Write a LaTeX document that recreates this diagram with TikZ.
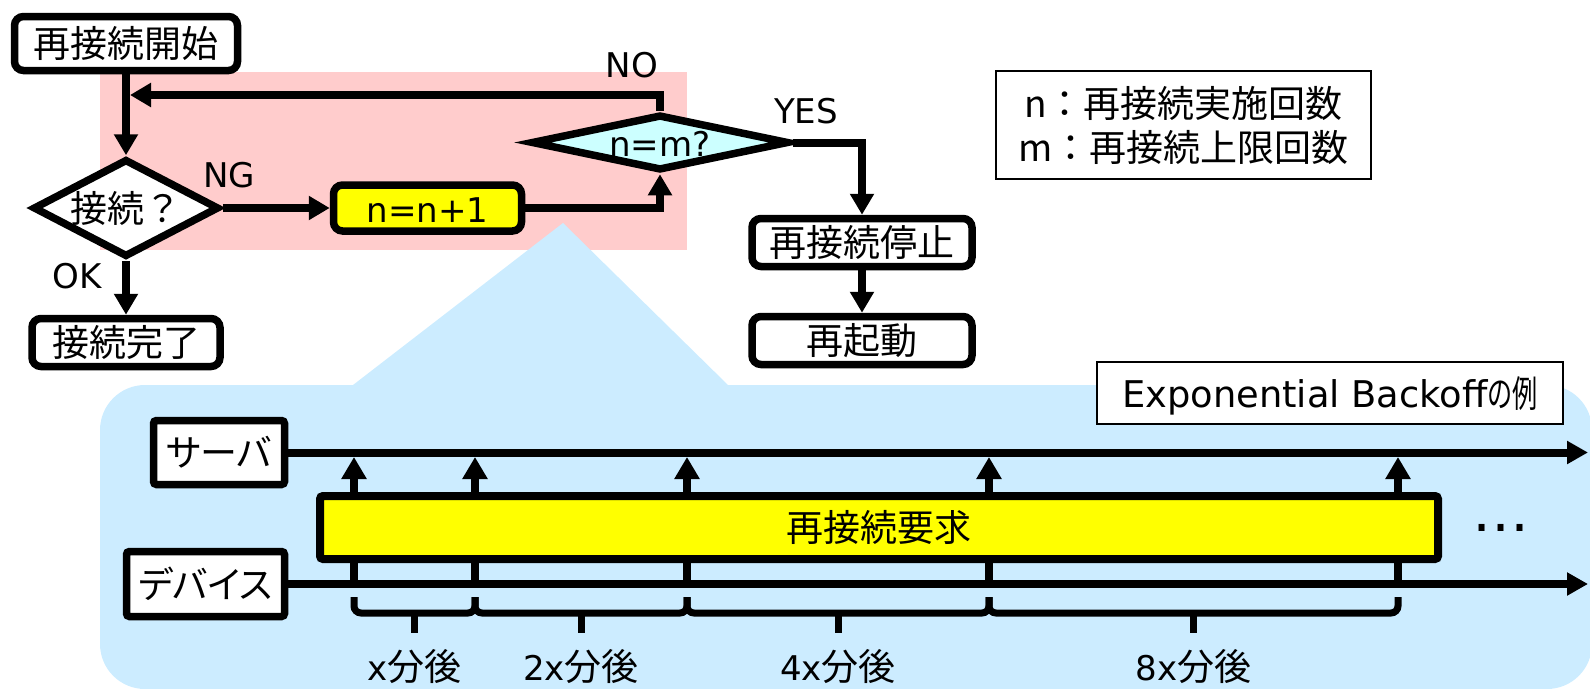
\documentclass[tikz,border=0pt]{standalone}
\usepackage{fontspec}
\usepackage{graphicx}
\setmainfont{Noto Sans CJK JP}
\newfontfamily\jp{Noto Sans CJK JP}
\newfontfamily\jpp{Noto Sans CJK JP}[RawFeature=+palt]
\newfontfamily\lat{DejaVu Sans}[Scale=0.92]
\usetikzlibrary{arrows.meta,shapes.geometric,calc}
\definecolor{pinkbg}{RGB}{255,204,204}
\definecolor{bluebg}{RGB}{204,236,255}
\definecolor{cyanfill}{RGB}{204,255,255}
\definecolor{yel}{RGB}{255,255,0}
\begin{document}
\begin{tikzpicture}[x=1pt,y=-1pt,
  font=\fontsize{37}{44}\selectfont,
  fbox/.style={draw, line width=7.5pt, rounded corners=9pt, fill=white, inner sep=0pt, text height=31pt, text depth=3pt},
  dia/.style={draw, diamond, line width=7.5pt, inner sep=0pt, text height=31pt, text depth=3pt},
  sbox/.style={draw, line width=7.5pt, rounded corners=3pt, fill=white, inner sep=0pt, text height=31pt, text depth=3pt},
  thinbox/.style={draw, line width=2pt, fill=white, inner sep=0pt},
  arr/.style={line width=8pt, -{Triangle[length=21pt,width=23pt]}},
  tline/.style={line width=8pt, -{Triangle[length=21pt,width=22pt]}},
  varr/.style={line width=8pt, -{Triangle[length=22pt,width=24pt]}},
  brc/.style={line width=7pt, rounded corners=7pt},
  lbl/.style={anchor=base, inner sep=0pt}
]
\path[use as bounding box] (0,0) rectangle (1590,688);
% backgrounds
\fill[pinkbg] (100,72) rectangle (687,250);
\fill[bluebg, rounded corners=45pt] (100,385) rectangle (1592,689);
\fill[bluebg] (353,385) -- (563,223) -- (728,385) -- (728,400) -- (353,400) -- cycle;

% flowchart
\node[fbox, minimum width=223pt, minimum height=54pt] (start) at (126,43.5) {再接続開始};
\node[dia, fill=white, minimum width=186pt, minimum height=98pt, aspect=1.9] (d1) at (126,208) {接続？};
\node[fbox, fill=yel, minimum width=188pt, minimum height=46pt] (inc) at (427.5,208) {\lat n=n+1};
\node[dia, fill=cyanfill, minimum width=254pt, minimum height=55pt, aspect=4.6] (d2) at (660,142.5) {\lat n=m?};
\node[fbox, minimum width=220pt, minimum height=48pt] (stop) at (862,242.5) {再接続停止};
\node[fbox, minimum width=220pt, minimum height=48pt] (reboot) at (862,340.5) {再起動};
\node[fbox, minimum width=188pt, minimum height=48pt] (done) at (126,342.5) {接続完了};

\coordinate (fbend) at (130,95);
\draw[arr] (start.south) -- (d1.north);
\draw[arr] (d2.north) |- (fbend);
\draw[arr] (d1.east) -- (inc.west);
\draw[arr] (inc.east) -| (d2.south);
\draw[arr] (d2.east) -| (stop.north);
\draw[arr] (stop.south) -- (reboot.north);
\draw[arr] (d1.south) -- (done.north);

\node[lbl] (ng) at (229,187) {\lat NG};
\node[lbl] (ok) at (77,288) {\lat OK};
\node[lbl] (no) at (632,77) {\lat NO};
\node[lbl] (yes) at (806,123) {\lat YES};

% legend
\node[thinbox, minimum width=375pt, minimum height=108pt, align=center] (legend) at (1183.5,125) {n：再接続実施回数\\m：再接続上限回数};

% title
\node[thinbox, minimum width=466pt, minimum height=62pt, text height=31pt, text depth=3pt] (title) at (1330,393)
  {{\fontsize{40}{48}\selectfont\lat Exponential Backoff}\scalebox{0.68}[1]{の例}};

% timeline
\node[sbox, minimum width=131pt, minimum height=64pt] (srv) at (219,452.5) {\jpp サーバ};
\node[sbox, minimum width=158pt, minimum height=65pt] (dev) at (205.5,584) {\jpp デバイス};
\coordinate (srvEnd) at (1588,452.5);
\coordinate (devEnd) at (1588,584);
\draw[tline] (srv.east) -- (srvEnd);
\draw[tline] (dev.east) -- (devEnd);

\foreach \x/\n in {354/a,475/b,687/c,989/d,1398/e}{
  \coordinate (bot\n) at (\x,584);
  \coordinate (top\n) at (\x,457);
  \draw[varr] (bot\n) -- (top\n);
}

\node[draw, line width=8pt, fill=yel, rounded corners=3pt, inner sep=0pt, minimum width=1118pt, minimum height=63pt, text height=31pt, text depth=3pt] (req) at (879,527.5) {再接続要求};

\node[lbl] (dots) at (1501,531.5) {\fontsize{62}{64}\selectfont\lat …};

% braces
\foreach \a/\b in {354/475,475/687,687/989,989/1398}{
  \draw[brc] (\a,597) -- (\a,613) -- (\b,613) -- (\b,597);
  \draw[brc] ({(\a+\b)/2},613) -- ({(\a+\b)/2},633);
}
\node[lbl] (t1) at (414.5,680) {{\lat x}分後};
\node[lbl] (t2) at (581,680) {{\lat 2x}分後};
\node[lbl] (t3) at (838,680) {{\lat 4x}分後};
\node[lbl] (t4) at (1193.5,680) {{\lat 8x}分後};
\end{tikzpicture}
\end{document}
